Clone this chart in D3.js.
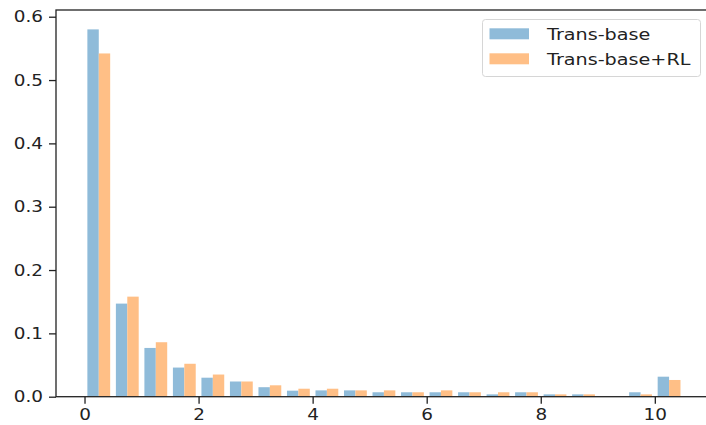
<!DOCTYPE html>
<html>
<head>
<meta charset="utf-8">
<script src="https://cdn.jsdelivr.net/npm/d3@7"></script>
<style>
  html, body { margin: 0; padding: 0; background: #fff; overflow: hidden; }
  svg { display: block; font-family: "DejaVu Sans", sans-serif; }
</style>
</head>
<body>
<svg id="chart" width="706" height="425"></svg>
<script>
// ── Data ──────────────────────────────────────────────────────────────────
var binWidth = 0.5;
var binStarts = [0, 0.5, 1, 1.5, 2, 2.5, 3, 3.5, 4, 4.5, 5, 5.5, 6, 6.5, 7, 7.5, 8, 8.5, 9, 9.5, 10];
var transBase   = [0.580, 0.147, 0.077, 0.046, 0.030, 0.024, 0.015, 0.0095, 0.010, 0.010, 0.007,
                   0.007, 0.007, 0.007, 0.0037, 0.007, 0.0037, 0.0037, 0, 0.007, 0.0316];
var transBaseRL = [0.542, 0.158, 0.086, 0.052, 0.035, 0.024, 0.018, 0.0126, 0.0126, 0.010, 0.010,
                   0.007, 0.010, 0.007, 0.007, 0.007, 0.0037, 0.0037, 0, 0.0037, 0.0264];
var seriesNames = ['Trans-base', 'Trans-base+RL'];
var seriesColors = ['#8fbbd9', '#ffbf86'];
var xTicks = [0, 2, 4, 6, 8, 10];
var yTicks = [0, 0.1, 0.2, 0.3, 0.4, 0.5, 0.6];

// ── Layout ────────────────────────────────────────────────────────────────
var svg = d3.select('#chart');
var plotL = 56, plotT = 10, plotB = 396.7;
var tickStretch = 1.15, legendStretch = 1.2;   // the picture's text is a bit wide
var x = d3.scaleLinear().domain([-0.5, 11]).range([plotL, plotL + 11.5 * 57.03]);
var y = d3.scaleLinear().domain([0, 0.6]).range([plotB, plotB - 6 * 63.33]);

// bars: two datasets share 80% of each bin
var barW = binWidth * 0.8 / 2;
[transBase, transBaseRL].forEach(function (vals, si) {
  svg.append('g').selectAll('rect').data(vals).join('rect')
    .attr('x', function (d, i) { return x(binStarts[i] + binWidth * 0.1 + si * barW); })
    .attr('width', x(barW) - x(0))
    .attr('y', function (d) { return y(d); })
    .attr('height', function (d) { return y(0) - y(d); })
    .attr('fill', seriesColors[si]);
});

// ── Axes ──────────────────────────────────────────────────────────────────
var xAxis = svg.append('g').attr('transform', 'translate(0,' + plotB + ')')
  .call(d3.axisBottom(x).tickValues(xTicks).tickFormat(d3.format('d')).tickSize(7).tickPadding(5));
var yAxis = svg.append('g').attr('transform', 'translate(' + plotL + ',0)')
  .call(d3.axisLeft(y).tickValues(yTicks).tickFormat(d3.format('.1f')).tickSize(7).tickPadding(5));
[xAxis, yAxis].forEach(function (a) {
  a.select('.domain').remove();
  a.selectAll('line').attr('stroke', '#222').attr('stroke-width', 1.3);
  a.selectAll('text').attr('fill', '#222').style('font-size', '16px')
    .style('font-family', '"DejaVu Sans", sans-serif')
    .attr('transform', 'scale(' + tickStretch + ',1)');
});
yAxis.selectAll('text').attr('x', -13 / tickStretch);

// frame (right edge falls outside the picture)
svg.append('rect')
  .attr('x', plotL).attr('y', plotT)
  .attr('width', x.range()[1] - plotL).attr('height', plotB - plotT)
  .attr('fill', 'none').attr('stroke', '#222').attr('stroke-width', 1.3);

// ── Legend ────────────────────────────────────────────────────────────────
var lg = svg.append('g');
lg.append('rect')
  .attr('x', 482.5).attr('y', 19.5).attr('width', 218).attr('height', 57)
  .attr('rx', 3).attr('fill', '#fff').attr('fill-opacity', 0.8)
  .attr('stroke', '#d6d6d6').attr('stroke-width', 1);
seriesNames.forEach(function (name, i) {
  var cy = 33.8 + i * 25;
  lg.append('rect').attr('x', 489.5).attr('y', cy - 5.5).attr('width', 39.5).attr('height', 11)
    .attr('fill', seriesColors[i]);
  lg.append('text')
    .attr('transform', 'translate(547,' + cy + ') scale(' + legendStretch + ',1)')
    .attr('dy', '0.36em')
    .attr('fill', '#222').style('font-size', '16px').text(name);
});
</script>
</body>
</html>
